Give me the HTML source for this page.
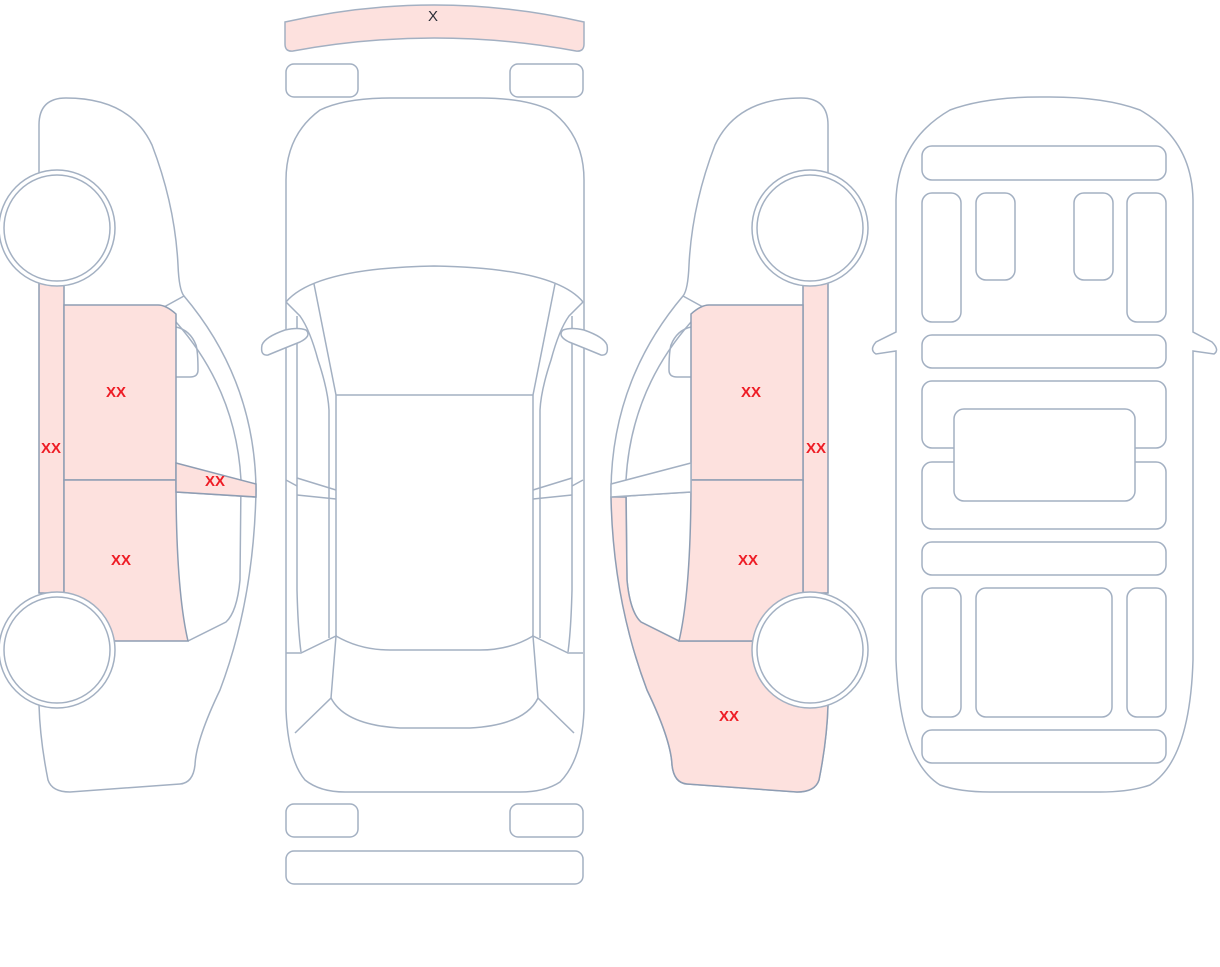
<!DOCTYPE html>
<html><head><meta charset="utf-8"><style>
html,body{margin:0;padding:0;background:#fff;width:1220px;height:967px;overflow:hidden}
svg{display:block}
text{font-family:"Liberation Sans",sans-serif;font-size:15px;font-weight:bold;fill:#ee1c25;text-anchor:middle}
</style></head><body>
<svg width="1220" height="967" viewBox="0 0 1220 967" xmlns="http://www.w3.org/2000/svg">
<defs>
<g id="sideBase" fill="none" stroke="#a3b0c2" stroke-width="1.5">
  <path d="M39,175 L39,125 Q39,98 66,98 Q130,98 152,145 Q175,205 178,265 Q179,290 184,296 Q255,380 256,490 Q254,600 220,690 Q196,740 195,765 Q193,783 180,784 L70,792 Q52,792 48,780 Q40,740 39,705" fill="#fff"/>
  <path d="M164,307 L184,296"/>
  <path d="M176,322 Q236,390 241,480 L240,580 Q237,612 226,622 L188,641"/>
  <path d="M176,327 Q190,330 196,345 Q198,352 198,370 Q198,377 190,377 L176,377"/>
  <path d="M176,492 L256,497"/>
</g>
</defs>

<!-- LEFT SIDE VIEW -->
<use href="#sideBase"/>
<g stroke="#8e9db3" stroke-width="1.5" fill="#fde1de">
  <rect x="39" y="283" width="25" height="310"/>
  <path d="M64,305 L158,305 Q166,305 176,314 L176,480 L64,480 Z"/>
  <path d="M64,480 L176,480 Q176,590 188,641 L115,641 L64,595 Z"/>
  <path d="M176,463 L256,484 L256,497 L176,492 Z"/>
</g>
<g stroke="#a3b0c2" stroke-width="1.5" fill="#fff">
  <circle cx="57" cy="228" r="58"/><circle cx="57" cy="228" r="53"/>
  <circle cx="57" cy="650" r="58"/><circle cx="57" cy="650" r="53"/>
</g>
<text x="51" y="453">XX</text>
<text x="116" y="397">XX</text>
<text x="121" y="565">XX</text>
<text x="215" y="486">XX</text>

<!-- RIGHT SIDE VIEW (mirrored) -->
<g transform="translate(867,0) scale(-1,1)">
  <use href="#sideBase"/>
  <path d="M256,497 Q254,600 220,690 Q196,740 195,765 Q193,783 180,784 L70,792 Q52,792 48,780 Q40,740 39,705 L115,641 L188,641 L226,622 Q237,612 240,580 L241,497 Z" fill="#fde1de" stroke="#8e9db3" stroke-width="1.5"/>
  <g stroke="#8e9db3" stroke-width="1.5" fill="#fde1de">
    <rect x="39" y="283" width="25" height="310"/>
    <path d="M64,305 L158,305 Q166,305 176,314 L176,480 L64,480 Z"/>
    <path d="M64,480 L176,480 Q176,590 188,641 L115,641 L64,595 Z"/>
  </g>
  <path d="M176,463 L256,484 L256,497 L176,492 Z" fill="#fff" stroke="#a3b0c2" stroke-width="1.5"/>
  <g stroke="#a3b0c2" stroke-width="1.5" fill="#fff">
    <circle cx="57" cy="228" r="58"/><circle cx="57" cy="228" r="53"/>
    <circle cx="57" cy="650" r="58"/><circle cx="57" cy="650" r="53"/>
  </g>
</g>
<text x="816" y="453">XX</text>
<text x="751" y="397">XX</text>
<text x="748" y="565">XX</text>
<text x="729" y="721">XX</text>

<!-- CENTER TOP VIEW -->
<g fill="none" stroke="#a3b0c2" stroke-width="1.5">
  <path d="M285,22 Q434,-12 584,22 L584,44 Q584,52 576,51 Q434,25 293,51 Q285,52 285,44 Z" fill="#fde1de"/>
  <rect x="286" y="64" width="72" height="33" rx="8"/>
  <rect x="510" y="64" width="73" height="33" rx="8"/>
  <path d="M286,480 L286,180 Q286,135 320,110 Q345,98 390,98 L480,98 Q525,98 550,110 Q584,135 584,180 L584,710 Q582,760 560,782 Q545,792 520,792 L345,792 Q320,792 305,780 Q288,760 286,710 Z" fill="#fff"/>
  <path d="M286,302 Q315,268 434,266 Q555,268 583,302"/>
  <path d="M314,284 L336,395"/><path d="M555,284 L533,395"/>
  <path d="M286,302 L300,316 Q310,330 318,360 Q328,390 329,410 L329,638"/>
  <path d="M583,302 L569,316 Q559,330 551,360 Q541,390 540,410 L540,638"/>
  <path d="M297,316 L297,590 Q298,630 301,652"/>
  <path d="M572,316 L572,590 Q571,630 568,652"/>
  <path d="M336,395 L533,395 M336,395 L336,636 M533,395 L533,636"/>
  <path d="M336,636 Q360,650 390,650 L480,650 Q510,650 533,636"/>
  <path d="M262,345 Q265,337 285,330 Q298,327 306,330 Q312,336 300,342 Q280,350 268,355 Q260,356 262,345 Z" fill="#fff"/>
  <path d="M607,345 Q604,337 584,330 Q571,327 563,330 Q557,336 569,342 Q589,350 601,355 Q609,356 607,345 Z" fill="#fff"/>
  <path d="M286,480 L297,486 M297,478 L336,490 M297,495 L336,499"/>
  <path d="M583,480 L572,486 M572,478 L533,490 M572,495 L533,499"/>
  <path d="M286,653 L301,653 L336,636 L331,698 L295,733"/>
  <path d="M583,653 L568,653 L533,636 L538,698 L574,733"/>
  <path d="M331,698 Q345,725 400,728 L470,728 Q525,725 538,698"/>
  <rect x="286" y="804" width="72" height="33" rx="8"/>
  <rect x="510" y="804" width="73" height="33" rx="8"/>
  <rect x="286" y="851" width="297" height="33" rx="8"/>
</g>
<text x="433" y="21" style="fill:#2b2f38;font-weight:normal;font-size:15px">X</text>

<!-- RIGHT TOP (interior) VIEW -->
<g fill="none" stroke="#a3b0c2" stroke-width="1.5">
  <path d="M896,332 L896,200 Q898,140 950,110 Q985,97 1040,97 L1050,97 Q1105,97 1140,110 Q1192,140 1193,200 L1193,332 L1212,342 Q1220,350 1214,354 L1193,351 L1193,660 Q1190,760 1150,785 Q1130,792 1100,792 L990,792 Q960,792 940,785 Q900,760 896,660 L896,351 L876,354 Q869,350 876,342 Z" fill="#fff"/>
  <rect x="922" y="146" width="244" height="34" rx="10"/>
  <rect x="922" y="193" width="39" height="129" rx="10"/>
  <rect x="976" y="193" width="39" height="87" rx="10"/>
  <rect x="1074" y="193" width="39" height="87" rx="10"/>
  <rect x="1127" y="193" width="39" height="129" rx="10"/>
  <rect x="922" y="335" width="244" height="33" rx="10"/>
  <rect x="922" y="381" width="244" height="67" rx="10"/>
  <rect x="922" y="462" width="244" height="67" rx="10"/>
  <rect x="954" y="409" width="181" height="92" rx="10" fill="#fff"/>
  <rect x="922" y="542" width="244" height="33" rx="10"/>
  <rect x="922" y="588" width="39" height="129" rx="10"/>
  <rect x="976" y="588" width="136" height="129" rx="10"/>
  <rect x="1127" y="588" width="39" height="129" rx="10"/>
  <rect x="922" y="730" width="244" height="33" rx="10"/>
</g>
</svg>
</body></html>
